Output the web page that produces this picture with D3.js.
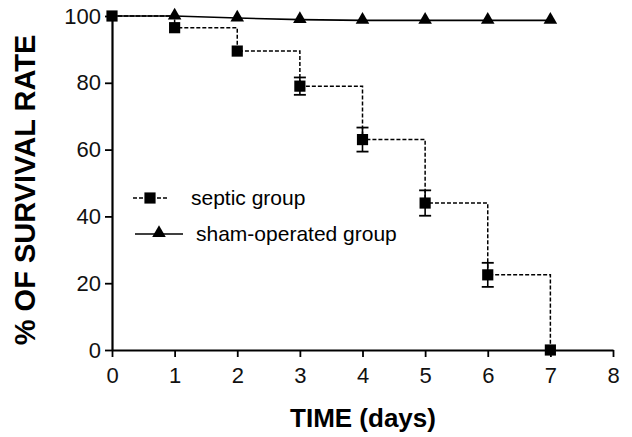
<!DOCTYPE html>
<html>
<head>
<meta charset="utf-8">
<script src="https://cdn.jsdelivr.net/npm/d3@7"></script>
<style>
  body { margin: 0; background: #fff; }
  text { font-family: "Liberation Sans", Arial, sans-serif; }
</style>
</head>
<body>
<svg id="chart" width="632" height="437"></svg>
<script>
// data
var days = [0, 1, 2, 3, 4, 5, 6, 7];
var septic = [100, 96.5, 89.5, 79, 63, 44, 22.5, 0];
var septicErr = [0, 0, 0, 2.6, 3.6, 3.8, 3.6, 0];
var sham = [100, 100, 99.4, 98.9, 98.7, 98.7, 98.7, 98.7];
var xTicks = [0, 1, 2, 3, 4, 5, 6, 7, 8];
var yTicks = [0, 20, 40, 60, 80, 100];

var svg = d3.select("#chart");

var x = d3.scaleLinear().domain([0, 8]).range([112, 613]);
var y = d3.scaleLinear().domain([0, 100]).range([350, 16]);

// axes
var xAxis = d3.axisBottom(x).tickValues(xTicks).tickSize(7).tickPadding(10).tickSizeOuter(0);
var yAxis = d3.axisLeft(y).tickValues(yTicks).tickSize(7).tickPadding(4).tickSizeOuter(0);

var gx = svg.append("g")
    .attr("transform", "translate(0,350)")
    .call(xAxis);
var gy = svg.append("g")
    .attr("transform", "translate(112,0)")
    .call(yAxis);

[gx, gy].forEach(function (g) {
  g.select(".domain").attr("stroke", "#000").attr("stroke-width", 2.2);
  g.selectAll(".tick line").attr("stroke", "#000").attr("stroke-width", 1.8);
  g.selectAll(".tick text")
    .attr("fill", "#111")
    .style("font-size", "22px")
    .style("font-family", "'Liberation Sans', Arial, sans-serif");
});

// axis titles
svg.append("text")
    .attr("x", 363)
    .attr("y", 427)
    .attr("text-anchor", "middle")
    .style("font-size", "26px")
    .style("font-weight", "bold")
    .text("TIME (days)");

svg.append("text")
    .attr("transform", "translate(35,190) rotate(-90)")
    .attr("text-anchor", "middle")
    .style("font-size", "29px")
    .style("font-weight", "bold")
    .text("% OF SURVIVAL RATE");

// sham-operated group, solid line
var shamLine = d3.line()
    .x(function (d, i) { return x(days[i]); })
    .y(function (d) { return y(d); });

svg.append("path")
    .datum(sham)
    .attr("d", shamLine)
    .attr("fill", "none")
    .attr("stroke", "#000")
    .attr("stroke-width", 1.6);

// septic group, dashed step line
var stepLine = d3.line()
    .curve(d3.curveStepAfter)
    .x(function (d, i) { return x(days[i]); })
    .y(function (d) { return y(d); });

svg.append("path")
    .datum(septic)
    .attr("d", stepLine)
    .attr("fill", "none")
    .attr("stroke", "#000")
    .attr("stroke-width", 1.5)
    .attr("stroke-dasharray", "4,2");

// error bars
var errIdx = days.filter(function (d, i) { return septicErr[i] > 0; });
var eb = svg.selectAll("g.err")
    .data(errIdx)
    .enter()
    .append("g")
    .attr("class", "err");
eb.append("line")
    .attr("x1", function (d) { return x(d); })
    .attr("x2", function (d) { return x(d); })
    .attr("y1", function (d) { return y(septic[d] + septicErr[d]); })
    .attr("y2", function (d) { return y(septic[d] - septicErr[d]); })
    .attr("stroke", "#000").attr("stroke-width", 1.6);
[1, -1].forEach(function (s) {
  eb.append("line")
      .attr("x1", function (d) { return x(d) - 6; })
      .attr("x2", function (d) { return x(d) + 6; })
      .attr("y1", function (d) { return y(septic[d] + s * septicErr[d]); })
      .attr("y2", function (d) { return y(septic[d] + s * septicErr[d]); })
      .attr("stroke", "#000").attr("stroke-width", 1.8);
});

// markers
var square = d3.symbol().type(d3.symbolSquare).size(125);
var triangle = d3.symbol().type(d3.symbolTriangle).size(80);

svg.selectAll("path.tri")
    .data(sham.slice(1))
    .enter()
    .append("path")
    .attr("class", "tri")
    .attr("d", triangle)
    .attr("transform", function (d, i) { return "translate(" + x(days[i + 1]) + "," + (y(d) - 0.5) + ")"; })
    .attr("fill", "#000");

svg.selectAll("path.sq")
    .data(septic)
    .enter()
    .append("path")
    .attr("class", "sq")
    .attr("d", square)
    .attr("transform", function (d, i) { return "translate(" + x(days[i]) + "," + y(d) + ")"; })
    .attr("fill", "#000");

// legend
var leg = svg.append("g");
leg.append("line")
    .attr("x1", 133).attr("x2", 167).attr("y1", 198).attr("y2", 198)
    .attr("stroke", "#000").attr("stroke-width", 1.5).attr("stroke-dasharray", "4,2");
leg.append("path")
    .attr("d", square)
    .attr("transform", "translate(150,198)");
leg.append("text")
    .attr("x", 191).attr("y", 205)
    .style("font-size", "21px")
    .text("septic group");

leg.append("line")
    .attr("x1", 135).attr("x2", 183).attr("y1", 234).attr("y2", 234)
    .attr("stroke", "#000").attr("stroke-width", 1.5);
leg.append("path")
    .attr("d", triangle)
    .attr("transform", "translate(159,233)");
leg.append("text")
    .attr("x", 196).attr("y", 241)
    .style("font-size", "21px")
    .text("sham-operated group");
</script>
</body>
</html>
